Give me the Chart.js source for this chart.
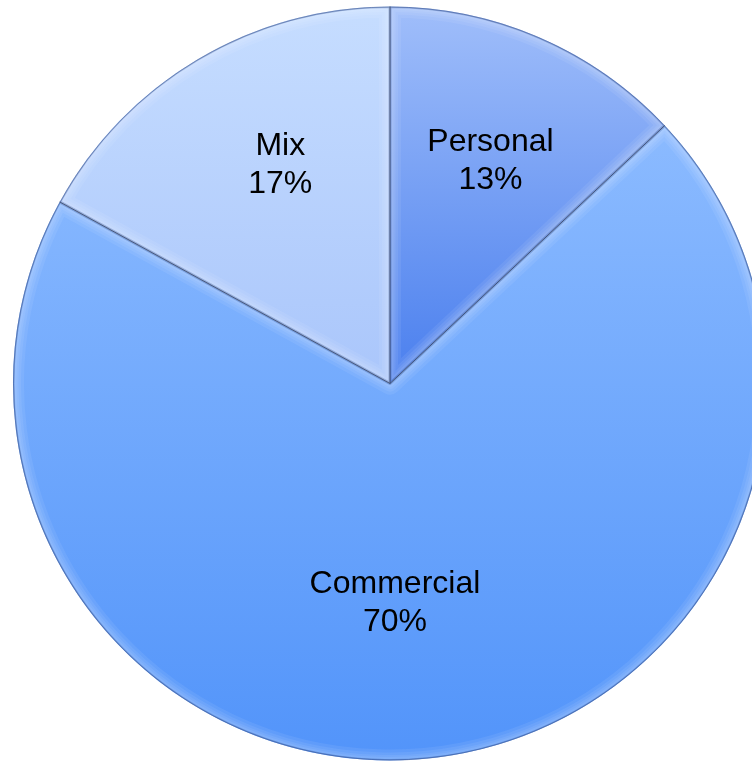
<!DOCTYPE html>
<html>
<head>
<meta charset="utf-8">
<script src="https://cdn.jsdelivr.net/npm/chart.js@4/dist/chart.umd.min.js"></script>
<style>
  html, body { margin: 0; padding: 0; background: #ffffff; overflow: hidden; }
  #wrap { position: absolute; left: 0; top: 0; width: 780px; height: 761px; }
</style>
</head>
<body>
<div id="wrap"><canvas id="pie"></canvas></div>
<script>
// Share of usage by type
const categories = ['Personal', 'Commercial', 'Mix'];
const shares = [13, 70, 17];

// Gradient stops per slice (top colour, bottom colour)
const topColors = ['#a0befa', '#8cbbff', '#c6ddff'];
const bottomColors = ['#4a7fee', '#5294fa', '#aac6fb'];
// Label placement: fraction of radius and angle nudge (degrees)
const labelRadius = [0.65, 0.58, 0.65];
const labelNudge = [0.8, 5.9, 4.0];

function sliceGradient(context) {
  const chart = context.chart;
  const area = chart.chartArea;
  const i = context.dataIndex;
  if (!area || !isFinite(area.top) || !isFinite(area.bottom)) return topColors[i];
  const cy = (area.top + area.bottom) / 2;
  const r = Math.min(area.right - area.left, area.bottom - area.top) / 2;
  let y0, y1;
  if (i !== 1) { y0 = cy - r; y1 = cy; }
  else { y0 = cy - r * 0.7; y1 = cy + r; }
  const g = chart.ctx.createLinearGradient(0, y0, 0, y1);
  g.addColorStop(0, topColors[i]);
  g.addColorStop(1, bottomColors[i]);
  return g;
}

function slicePath(ctx, p) {
  ctx.beginPath();
  ctx.moveTo(p.x, p.y);
  ctx.arc(p.x, p.y, p.outerRadius, p.startAngle, p.endAngle);
  ctx.closePath();
}

// Soft bevel along each slice edge plus fine dividing lines
const bevelPlugin = {
  id: 'bevel',
  afterDatasetsDraw(chart) {
    const ctx = chart.ctx;
    const meta = chart.getDatasetMeta(0);
    meta.data.forEach((arc) => {
      const p = arc.getProps(['x', 'y', 'startAngle', 'endAngle', 'outerRadius'], true);
      ctx.save();
      slicePath(ctx, p);
      ctx.clip();
      ctx.lineJoin = 'round';
      [22, 16, 11, 7].forEach((w) => {
        slicePath(ctx, p);
        ctx.strokeStyle = 'rgba(255,255,255,0.07)';
        ctx.lineWidth = w;
        ctx.stroke();
      });
      slicePath(ctx, p);
      ctx.strokeStyle = 'rgba(30,60,130,0.28)';
      ctx.lineWidth = 3;
      ctx.stroke();
      ctx.restore();
    });
    // thin outer rim
    const first = meta.data[0].getProps(['x', 'y', 'outerRadius'], true);
    ctx.save();
    ctx.beginPath();
    ctx.arc(first.x, first.y, first.outerRadius - 0.5, 0, Math.PI * 2);
    ctx.strokeStyle = 'rgba(40,70,140,0.45)';
    ctx.lineWidth = 1;
    ctx.stroke();
    ctx.strokeStyle = 'rgba(40,55,90,0.75)';
    ctx.lineWidth = 1;
    meta.data.forEach((arc) => {
      const p = arc.getProps(['x', 'y', 'startAngle', 'outerRadius'], true);
      ctx.beginPath();
      ctx.moveTo(p.x, p.y);
      ctx.lineTo(p.x + Math.cos(p.startAngle) * p.outerRadius, p.y + Math.sin(p.startAngle) * p.outerRadius);
      ctx.stroke();
    });
    ctx.restore();
  }
};

// Two-line labels: category name and percentage
const labelPlugin = {
  id: 'sliceLabels',
  afterDraw(chart) {
    const ctx = chart.ctx;
    const meta = chart.getDatasetMeta(0);
    const total = shares.reduce((a, b) => a + b, 0);
    ctx.save();
    ctx.fillStyle = '#000000';
    ctx.font = '32px "Liberation Sans", Arial, sans-serif';
    ctx.textAlign = 'center';
    ctx.textBaseline = 'middle';
    meta.data.forEach((arc, i) => {
      const p = arc.getProps(['x', 'y', 'startAngle', 'endAngle', 'outerRadius'], true);
      const mid = (p.startAngle + p.endAngle) / 2 + labelNudge[i] * Math.PI / 180;
      const r = p.outerRadius * labelRadius[i];
      const cx = p.x + Math.cos(mid) * r;
      const cy = p.y + Math.sin(mid) * r;
      const pct = Math.round(shares[i] / total * 100) + '%';
      ctx.fillText(categories[i], cx, cy - 18);
      ctx.fillText(pct, cx, cy + 20);
    });
    ctx.restore();
  }
};

new Chart(document.getElementById('pie'), {
  type: 'pie',
  data: {
    labels: categories,
    datasets: [{
      data: shares,
      backgroundColor: sliceGradient,
      borderWidth: 0,
      hoverOffset: 0
    }]
  },
  options: {
    responsive: true,
    maintainAspectRatio: false,
    animation: false,
    rotation: 0,
    layout: { padding: { top: 6, bottom: 0, left: 13, right: 13 } },
    plugins: {
      legend: { display: false },
      tooltip: { enabled: false }
    }
  },
  plugins: [bevelPlugin, labelPlugin]
});
</script>
</body>
</html>
